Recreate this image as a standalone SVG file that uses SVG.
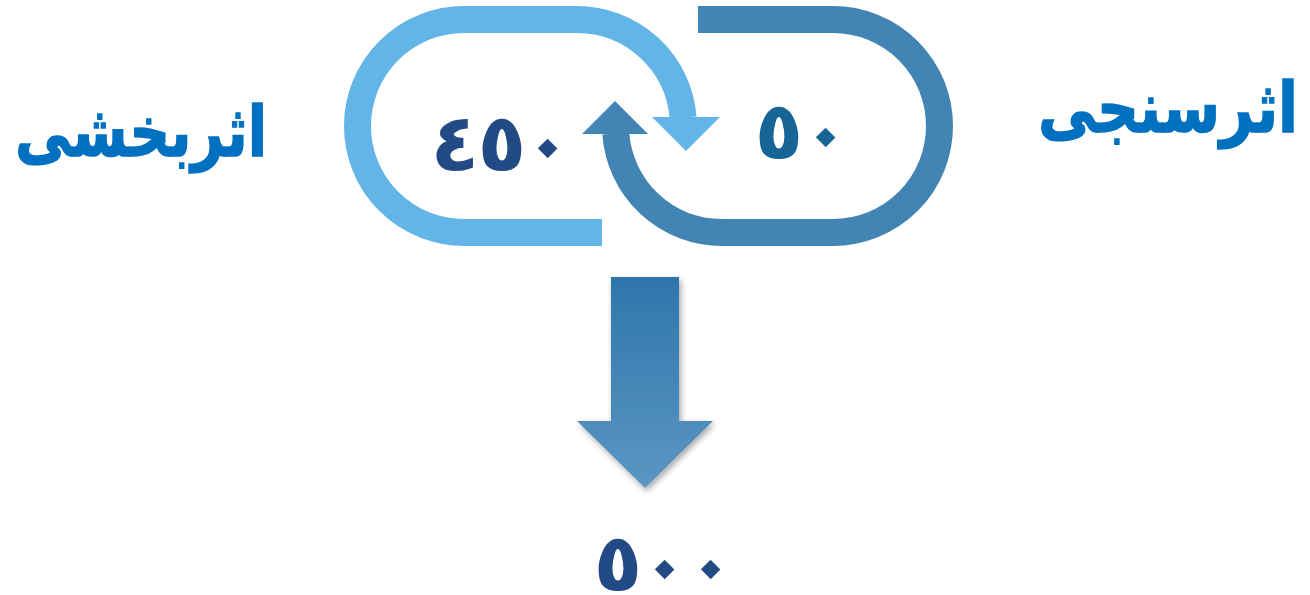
<svg xmlns="http://www.w3.org/2000/svg" width="1310" height="595" viewBox="0 0 1310 595">
<style>
.loop{fill:none;stroke-width:27;stroke-linecap:butt}
.light{stroke:#63B5E7}
.dark{stroke:#4285B4}
.label{font-family:"DejaVu Sans",sans-serif;font-weight:bold;fill:#0070C0;stroke:#0070C0;stroke-width:1.5;font-size:70px}
.num{font-family:"DejaVu Sans",sans-serif;font-weight:bold;font-size:80px}
</style>
<defs>
<linearGradient id="g" x1="0" y1="0" x2="0" y2="1">
<stop offset="0" stop-color="#2E76AC"/>
<stop offset="1" stop-color="#5C96C2"/>
</linearGradient>
<filter id="sh" x="-20%" y="-20%" width="140%" height="140%">
<feDropShadow dx="2" dy="3" stdDeviation="3" flood-color="#000" flood-opacity="0.35"/>
</filter>
</defs>
<g id="connectors">
<g id="loop-left">
<path class="loop light" d="M602 232.5H464A106.5 106.5 0 0 1 464 19.5H577A106.5 106.5 0 0 1 683.1 117.5"/>
<polygon fill="#63B5E7" points="652,117 720,117 686,151"/>
</g>
<g id="loop-right">
<path class="loop dark" d="M698 19.5H833A106.5 106.5 0 0 1 833 232.5H722A106.5 106.5 0 0 1 615.8 133.5"/>
<polygon fill="#4285B4" points="582,134 648,134 615,101"/>
</g>
<g id="arrow-down">
<polygon fill="url(#g)" filter="url(#sh)" points="611,277 679,277 679,421 713,421 645,488 577,421 611,421"/>
</g>
</g>
<g id="node-effectiveness">
<text class="label" x="141" y="156" text-anchor="middle" direction="rtl" textLength="252" lengthAdjust="spacingAndGlyphs">اثربخشی</text>
</g>
<g id="node-measurement">
<text class="label" x="1168" y="132" text-anchor="middle" direction="rtl" textLength="260" lengthAdjust="spacingAndGlyphs">اثرسنجی</text>
</g>
<g id="node-450">
<text class="num" x="455 502 539" y="171 171 147" fill="#224A84" text-anchor="middle" rotate="0 0 45">٤٥٠</text>
</g>
<g id="node-50">
<text class="num" x="779 817" y="159 136" fill="#176496" text-anchor="middle" rotate="0 45">٥٠</text>
</g>
<g id="node-500">
<text class="num" x="618 656 702" y="591 568 568" fill="#224A84" text-anchor="middle" rotate="0 45 45">٥٠٠</text>
</g>
</svg>
